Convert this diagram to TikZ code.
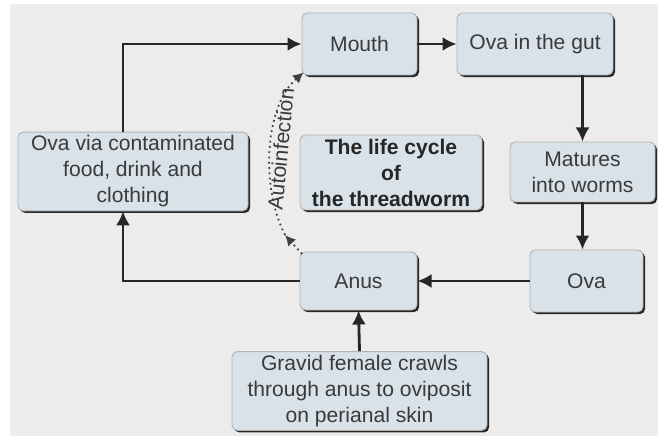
\documentclass[tikz,border=0pt]{standalone}
\usepackage{fontspec}
\setmainfont{Liberation Sans}
\usetikzlibrary{arrows.meta,positioning,calc,shadows}

\definecolor{bggray}{HTML}{ECECEC}
\definecolor{boxfill}{HTML}{D9E2E9}
\definecolor{inkgray}{HTML}{3A3A3A}

\begin{document}
\begin{tikzpicture}[>={Latex[length=8pt,width=8pt]},
  font=\fontsize{12}{14.8}\selectfont,
  stage/.style={draw=gray!60,line width=0.5pt,fill=boxfill,rounded corners=3pt,
    align=center,text=inkgray,inner sep=2pt,
    drop shadow={shadow xshift=1.2pt,shadow yshift=-1.2pt,fill=black!85,opacity=1}},
  flow/.style={->,line width=1.6pt,black!85},
  autoarr/.style={->,>={Latex[length=6pt,width=6pt]},dotted,line width=1pt,black!75}]
\useasboundingbox (0,0) rectangle (13.32,8.72);
\fill[bggray] (0.2,0) rectangle (13.16,8.64);
% boxes
\node[stage,minimum width=2.3cm,minimum height=1.24cm] (mouth) at (7.19,7.84) {Mouth};
\node[stage,minimum width=3.12cm,minimum height=1.24cm] (gut) at (10.70,7.84) {Ova in the gut};
\node[stage,minimum width=2.9cm,minimum height=1.2cm] (matures) at (11.65,5.28) {Matures\\into worms};
\node[stage,minimum width=2.26cm,minimum height=1.24cm] (ova) at (11.73,3.10) {Ova};
\node[stage,minimum width=2.34cm,minimum height=1.16cm] (anus) at (7.17,3.10) {Anus};
\node[stage,minimum width=5.1cm,minimum height=1.56cm] (gravid) at (7.19,0.90) {Gravid female crawls\\through anus to oviposit\\on perianal skin};
\node[stage,minimum width=4.6cm,minimum height=1.54cm] (via) at (2.66,5.29) {Ova via contaminated\\food, drink and\\clothing};
\node[stage,minimum width=3.64cm,minimum height=1.5cm,font=\fontsize{12}{14.8}\selectfont\bfseries,text=black!85] (title) at (7.82,5.27) {The life cycle\\of\\the threadworm};
% cycle
\draw[flow] (mouth.east) -- (gut.west);
\draw[flow] (matures.north |- gut.south) -- (matures.north);
\draw[flow] (matures.south) -- (matures.south |- ova.north);
\draw[flow] (ova.west) -- (anus.east);
\draw[flow] (gravid.north) -- (anus.south);
\draw[flow] (anus.west) -| ([xshift=-0.2cm]via.south);
\draw[flow] ([xshift=-0.2cm]via.north) |- (mouth.west);
% autoinfection
\coordinate (autostart) at (5.70,4.02);
\draw[autoarr] ([shift={(0.05,-0.05)}]anus.north west) -- (autostart);
\draw[autoarr] (autostart) .. controls (5.2,5.0) and (5.3,6.6) ..
  node[midway,sloped,below=0pt,inner sep=1pt,text=inkgray] (autolabel) {Autoinfection} ([shift={(0.04,0.06)}]mouth.south west);
\end{tikzpicture}
\end{document}
